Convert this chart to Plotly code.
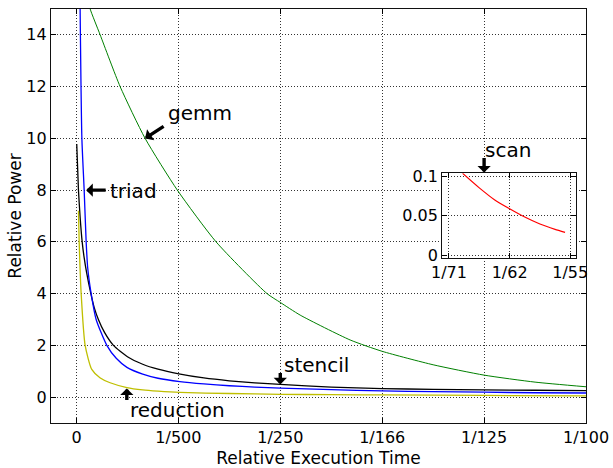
import plotly.graph_objects as go

# ---------------- data ----------------
gemm_x = [0.00024, 0.000269, 0.000465, 0.000857, 0.001347, 0.00198, 0.00274, 0.00374,
          0.004, 0.00439, 0.00537, 0.006, 0.007, 0.008, 0.009, 0.01]
gemm_y = [15.3, 15.0, 14.0, 12.0, 10.0, 8.0, 6.0, 4.0, 3.66, 3.17, 2.21, 1.77, 1.25, 0.85, 0.58, 0.40]

triad_x = [0.00007, 0.000106, 0.000151, 0.00019, 0.00022, 0.000288, 0.000386, 0.000596,
           0.00078, 0.00099, 0.0013, 0.0016, 0.00203, 0.0025, 0.003, 0.0035, 0.004,
           0.005, 0.006, 0.007, 0.008, 0.009, 0.01]
triad_y = [15.3, 10.0, 8.0, 6.0, 5.0, 4.0, 3.0, 2.0,
           1.5, 1.15, 0.89, 0.73, 0.6, 0.51, 0.44, 0.39, 0.35,
           0.29, 0.24, 0.21, 0.19, 0.17, 0.16]

stencil_x = [0.000005, 0.000039, 0.00007, 0.000112, 0.00015, 0.0002, 0.000282, 0.00035,
             0.00043, 0.00055, 0.000725, 0.001, 0.0013, 0.0016, 0.00201, 0.0025, 0.003,
             0.0035, 0.004, 0.005, 0.006, 0.007, 0.008, 0.009, 0.01]
stencil_y = [9.78, 8.0, 7.0, 6.0, 5.4, 4.8, 4.0, 3.45,
             3.0, 2.5, 2.0, 1.56, 1.27, 1.08, 0.9, 0.74, 0.63,
             0.55, 0.49, 0.39, 0.33, 0.30, 0.28, 0.265, 0.25]

reduction_x = [0.000039, 0.000053, 0.000092, 0.00017, 0.0003, 0.00046, 0.00066, 0.00099,
               0.0013, 0.0016, 0.00203, 0.003, 0.004, 0.005, 0.006, 0.008, 0.01]
reduction_y = [7.2, 6.0, 4.0, 2.0, 1.07, 0.75, 0.555, 0.37,
               0.28, 0.23, 0.18, 0.14, 0.11, 0.095, 0.085, 0.065, 0.05]

scan_x = [0.01445, 0.0150, 0.0155, 0.0160, 0.0165, 0.0170, 0.0175, 0.01783]
scan_y = [0.1034, 0.0850, 0.0700, 0.0585, 0.0480, 0.0392, 0.0325, 0.0287]

main_x_ticks = [0, 0.002, 0.004, 0.006, 0.008, 0.01]
main_x_labels = ["0", "1/500", "1/250", "1/166", "1/125", "1/100"]
main_y_ticks = [0, 2, 4, 6, 8, 10, 12, 14]

inset_x_ticks = [0.014, 0.016, 0.018]
inset_x_labels = ["1/71", "1/62", "1/55"]
inset_y_ticks = [0, 0.05, 0.1]
inset_y_labels = ["0", "0.05", "0.1"]

# label text positions (data coords of main axes) and arrow heads
labels = ["gemm", "triad", "reduction", "stencil", "scan"]
label_x = [0.001759, 0.000627, 0.001008, 0.004029, 0.007985]
label_y = [10.97, 7.95, -0.5, 1.25, 9.55]
arrow_x = [0.001347, 0.00019, 0.000988, 0.004, 0.008]
arrow_y = [10.0, 8.0, 0.335, 0.49, 8.68]
arrow_ax = [20, 21, 0, 0, 0]
arrow_ay = [-13, 0, 13, -13, -16]

FONT = "DejaVu Sans"

fig = go.Figure()

def add_curve(x, y, color, width, xa="x", ya="y"):
    fig.add_trace(go.Scatter(x=x, y=y, mode="lines", xaxis=xa, yaxis=ya,
                             line=dict(color=color, width=width, shape="spline", smoothing=0.6),
                             showlegend=False, hoverinfo="skip"))

add_curve(stencil_x, stencil_y, "black", 1.3)
add_curve(triad_x, triad_y, "#0000ff", 1.3)
add_curve(reduction_x, reduction_y, "#bfbf00", 1.3)
add_curve(gemm_x, gemm_y, "#008000", 1.0)
add_curve(scan_x, scan_y, "#ff0000", 1.2, "x2", "y2")

common = dict(showline=True, linecolor="#111", linewidth=1.3, mirror="ticks",
              ticks="inside", ticklen=5, tickcolor="black", tickwidth=1,
              showgrid=True, gridcolor="#333", gridwidth=1, griddash="1px,2px",
              zeroline=False, automargin=False,
              tickfont=dict(family=FONT, size=16, color="black"))

for i in range(len(labels)):
    fig.add_annotation(x=arrow_x[i], y=arrow_y[i], xref="x", yref="y", text="",
                       showarrow=True, ax=arrow_ax[i], ay=arrow_ay[i],
                       arrowhead=1, arrowsize=0.65, arrowwidth=3.4, arrowcolor="black",
                       standoff=0)
    fig.add_annotation(x=label_x[i], y=label_y[i], xref="x", yref="y", text=labels[i],
                       showarrow=False, xanchor="left", yanchor="middle",
                       font=dict(family=FONT, size=20, color="black"))

fig.update_layout(
    template="none",
    width=613, height=468,
    margin=dict(l=51, r=27, t=9, b=45, autoexpand=False),
    paper_bgcolor="white", plot_bgcolor="white",
    font=dict(family=FONT, size=16, color="black"),
    xaxis=dict(common, domain=[0, 1], anchor="y", range=[-0.0005, 0.01],
               tickvals=main_x_ticks, ticktext=main_x_labels,
               title=dict(text="Relative Execution Time", font=dict(family=FONT, size=17), standoff=6)),
    yaxis=dict(common, domain=[0, 1], anchor="x", range=[-1, 15],
               tickvals=main_y_ticks,
               title=dict(text="Relative Power", font=dict(family=FONT, size=17), standoff=0)),
    xaxis2=dict(common, domain=[0.7314, 0.9813], anchor="y2", range=[0.01378, 0.01819],
                tickvals=inset_x_ticks, ticktext=inset_x_labels),
    yaxis2=dict(common, domain=[0.3993, 0.6031], anchor="x2", range=[-0.0034, 0.1034],
                tickvals=inset_y_ticks, ticktext=inset_y_labels),
)

fig.write_html("out.html")
